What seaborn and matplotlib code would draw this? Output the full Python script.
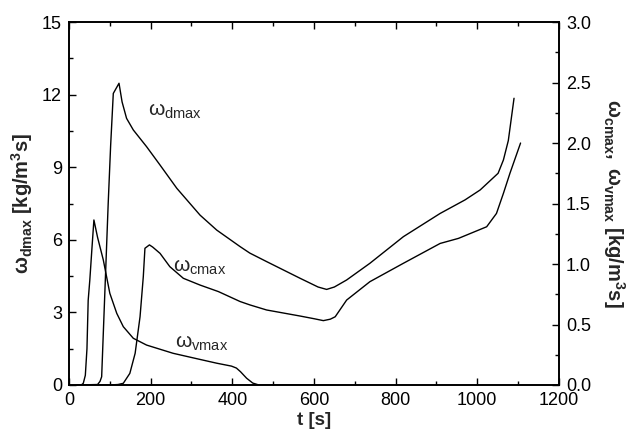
import matplotlib
matplotlib.use("Agg")
import matplotlib.pyplot as plt
import seaborn as sns
import numpy as np
import pandas as pd
from matplotlib.ticker import MultipleLocator

# ---- data ----
# omega_dmax, left axis [kg/m3s]
t_d = [20, 70, 76, 80, 84, 90, 96, 102, 108.5, 122.5, 130, 141, 157.5, 190, 223, 264,
       321, 362, 419, 443, 484, 566, 610, 631, 650, 680, 737, 819, 909, 970, 1007, 1051,
       1064, 1076, 1090]
w_dmax = [0, 0.02, 0.15, 0.34, 2.13, 4.8, 7.5, 9.9, 12.05, 12.47, 11.7, 11.02, 10.54,
          9.85, 9.09, 8.13, 7.02, 6.4, 5.72, 5.45, 5.1, 4.41, 4.05, 3.95, 4.05, 4.34, 5.03,
          6.13, 7.09, 7.65, 8.06, 8.75, 9.3, 10.1, 11.85]

# omega_cmax, right axis [kg/m3s]
t_c = [20, 100, 120, 133, 149, 162, 174, 182, 186, 197, 205, 223, 247, 280, 321, 366,
       419, 443, 484, 566, 600, 623, 640, 652, 680, 737, 819, 909, 954, 1023, 1047, 1064,
       1080, 1106]
w_cmax = [0, 0, 0.004, 0.014, 0.096, 0.262, 0.564, 0.896, 1.13, 1.158, 1.14, 1.088,
          0.978, 0.882, 0.826, 0.772, 0.69, 0.662, 0.62, 0.57, 0.548, 0.532, 0.544, 0.564,
          0.702, 0.854, 1.006, 1.17, 1.212, 1.308, 1.418, 1.584, 1.75, 2.0]

# omega_vmax, right axis [kg/m3s]
t_v = [20, 30, 35, 40, 44, 47, 51, 56, 61, 70, 84, 100, 117, 133, 157.5, 190, 255, 320,
       362, 398, 410, 420, 435, 450, 465, 600]
w_vmax = [0, 0, 0.014, 0.08, 0.3, 0.7, 0.868, 1.12, 1.364, 1.22, 1.034, 0.758, 0.592,
          0.482, 0.386, 0.33, 0.262, 0.212, 0.18, 0.156, 0.14, 0.11, 0.056, 0.016, 0, 0]

x_ticks = [0, 200, 400, 600, 800, 1000, 1200]
left_ticks = [0, 3, 6, 9, 12, 15]
right_ticks = [0.0, 0.5, 1.0, 1.5, 2.0, 2.5, 3.0]

sns.set_theme(style="ticks")
plt.rcParams['font.family'] = ['Liberation Sans', 'DejaVu Sans']
plt.rcParams['mathtext.fontset'] = 'custom'
plt.rcParams['mathtext.rm'] = 'Liberation Sans'
plt.rcParams['mathtext.it'] = 'Liberation Sans:italic'
plt.rcParams['mathtext.bf'] = 'Liberation Sans:bold'

fig = plt.figure(figsize=(6.33, 4.41), dpi=100)
ax = fig.add_axes([0.109, 0.127, 0.774, 0.823])
ax2 = ax.twinx()

df_d = pd.DataFrame({'t': t_d, 'w': w_dmax})
df_c = pd.DataFrame({'t': t_c, 'w': w_cmax})
df_v = pd.DataFrame({'t': t_v, 'w': w_vmax})

sns.lineplot(data=df_d, x='t', y='w', ax=ax, color='black', lw=1.0, sort=False)
sns.lineplot(data=df_c, x='t', y='w', ax=ax2, color='black', lw=1.0, sort=False)
sns.lineplot(data=df_v, x='t', y='w', ax=ax2, color='black', lw=1.0, sort=False)

ax.set_xlim(0, 1200)
ax.set_ylim(0, 15)
ax2.set_ylim(0, 3.0)
ax.set_xticks(x_ticks)
ax.set_yticks(left_ticks)
ax2.set_yticks(right_ticks)
ax.set_yticklabels([str(v) for v in left_ticks])
ax2.set_yticklabels([f"{v:.1f}" for v in right_ticks])
ax.xaxis.set_minor_locator(MultipleLocator(100))
ax.yaxis.set_minor_locator(MultipleLocator(1.5))
ax2.yaxis.set_minor_locator(MultipleLocator(0.25))

fs = 13
ax.tick_params(axis='x', which='both', direction='in', top=True, bottom=True,
               labelsize=fs, pad=5, colors='black')
ax.tick_params(axis='y', which='both', direction='in', left=True, right=False,
               labelsize=fs, pad=5, colors='black')
ax2.tick_params(axis='y', which='both', direction='in', right=True, left=False,
                labelsize=fs, pad=5, colors='black')
for a in (ax, ax2):
    a.tick_params(which='major', length=5, width=1.0)
    a.tick_params(which='minor', length=3, width=1.0)
    for s in a.spines.values():
        s.set_linewidth(1.2)
        s.set_color('black')
        s.set_visible(True)

ax.set_xlabel('t [s]', fontsize=13.5, fontweight='bold', labelpad=2)
ax.set_ylabel(r'$\mathbf{\omega_{dmax}\ [kg/m^3s]}$', fontsize=14.5, labelpad=5)
ax2.set_ylabel(r'$\mathbf{\omega_{cmax},\ \omega_{vmax}\ [kg/m^3s]}$', fontsize=14.5,
               rotation=270, labelpad=26)

ax.text(193, 11.3, r'$\mathrm{\omega_{dmax}}$', fontsize=15, ha='left', va='center')
ax.text(255, 4.88, r'$\mathrm{\omega_{cmax}}$', fontsize=15, ha='left', va='center')
ax.text(260, 1.73, r'$\mathrm{\omega_{vmax}}$', fontsize=15, ha='left', va='center')

fig.savefig('out.png', dpi=100)
